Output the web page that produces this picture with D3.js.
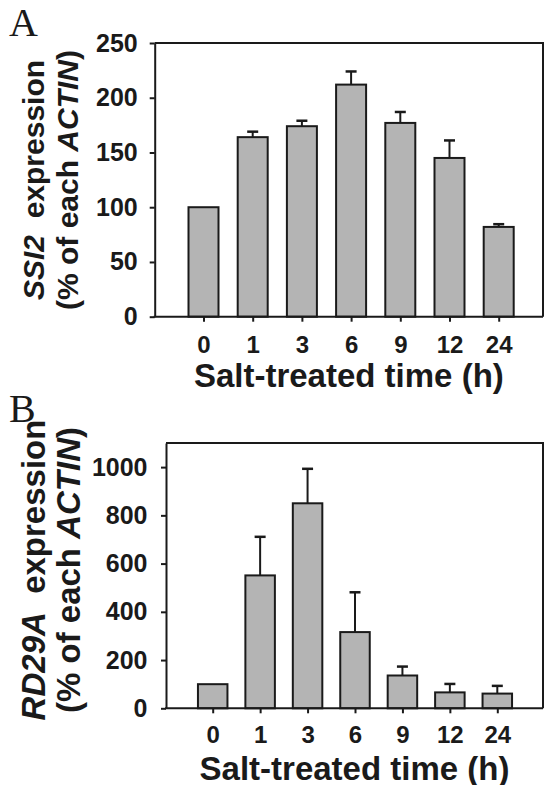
<!DOCTYPE html>
<html>
<head>
<meta charset="utf-8">
<script src="https://cdn.jsdelivr.net/npm/d3@7/dist/d3.min.js"></script>
<style>
  body { margin: 0; background: white; }
  text { font-family: "Liberation Sans", Arial, sans-serif; font-weight: bold; fill: #1a1a1a; }
</style>
</head>
<body>
<div id="chart"></div>
<script>
// Data
const times = ["0", "1", "3", "6", "9", "12", "24"];
const ssi2Mean = [100, 164, 174, 212, 177, 145, 82];
const ssi2Err = [0, 5, 5, 12, 10, 16, 2.5];
const rd29aMean = [100, 551, 850, 316, 136, 66, 61];
const rd29aErr = [0, 160, 143, 165, 37, 35, 32];
const ticksA = [0, 50, 100, 150, 200, 250];
const ticksB = [0, 200, 400, 600, 800, 1000];

const width = 544;
const height = 785;
const barFill = "#b4b4b4";
const ink = "#1a1a1a";

const svg = d3.select("#chart").append("svg")
  .attr("width", width)
  .attr("height", height);

function drawPanel(p) {
  const g = svg.append("g");

  const y = d3.scaleLinear().domain(p.domain).range([p.bottom, p.top]);
  const x = d3.scalePoint().domain(times).range(p.xRange);

  // frame (top + right)
  g.append("path")
    .attr("d", `M${p.left},${p.top}H${p.right}V${p.bottom}`)
    .attr("fill", "none").attr("stroke", ink).attr("stroke-width", 2);

  // bars
  const data = times.map((t, i) => ({ t, v: p.mean[i], e: p.err[i] }));
  g.selectAll(".bar").data(data).enter().append("rect")
    .attr("class", "bar")
    .attr("x", d => x(d.t) - p.barW / 2)
    .attr("width", p.barW)
    .attr("y", d => y(d.v))
    .attr("height", d => y(0) - y(d.v))
    .attr("fill", barFill)
    .attr("stroke", ink)
    .attr("stroke-width", 2);

  // error bars (upper only)
  const eb = g.selectAll(".err").data(data.filter(d => d.e > 0)).enter().append("g");
  eb.append("line")
    .attr("x1", d => x(d.t)).attr("x2", d => x(d.t))
    .attr("y1", d => y(d.v)).attr("y2", d => y(d.v + d.e))
    .attr("stroke", ink).attr("stroke-width", 2);
  eb.append("line")
    .attr("x1", d => x(d.t) - 5.5).attr("x2", d => x(d.t) + 5.5)
    .attr("y1", d => y(d.v + d.e)).attr("y2", d => y(d.v + d.e))
    .attr("stroke", ink).attr("stroke-width", 2.5);

  // y axis
  const ya = g.append("g")
    .attr("transform", `translate(${p.left},0)`)
    .call(d3.axisLeft(y).tickValues(p.ticks).tickFormat(d3.format("d"))
      .tickSize(5).tickPadding(p.yPad).tickSizeOuter(0));
  ya.select(".domain").attr("stroke", ink).attr("stroke-width", 2);
  ya.selectAll(".tick line").attr("stroke", ink).attr("stroke-width", 2);
  ya.selectAll(".tick text").style("font-size", "25px").attr("fill", ink);

  // x axis
  const xa = g.append("g")
    .attr("transform", `translate(0,${p.bottom})`)
    .call(d3.axisBottom(x).tickSize(5).tickSizeOuter(0));
  xa.select(".domain").attr("d", `M${p.left - 1},0H${p.right}`).attr("stroke", ink).attr("stroke-width", 2);
  xa.selectAll(".tick line").attr("stroke", ink).attr("stroke-width", 2);
  xa.selectAll(".tick text").style("font-size", "24px").attr("fill", ink)
    .attr("y", p.xLabY).attr("dy", 0);

  // x title
  g.append("text")
    .attr("x", (p.left + p.right) / 2)
    .attr("y", p.titleY)
    .attr("text-anchor", "middle")
    .style("font-size", "33px")
    .text("Salt-treated time (h)");

  // y title, two lines, rotated
  const cy = p.labCy;
  const l1 = g.append("text")
    .attr("transform", `translate(${p.lab1X},${cy}) rotate(-90)`)
    .attr("text-anchor", "middle")
    .style("font-size", p.labSize + "px");
  l1.append("tspan").style("font-style", "italic").text(p.gene);
  l1.append("tspan").text("\u00a0 expression");

  const l2 = g.append("text")
    .attr("transform", `translate(${p.lab2X},${cy}) rotate(-90)`)
    .attr("text-anchor", "middle")
    .style("font-size", p.labSize + "px");
  l2.append("tspan").text("(% of each ");
  l2.append("tspan").style("font-style", "italic").text("ACTIN");
  l2.append("tspan").text(")");

  // panel letter
  svg.append("text")
    .attr("x", 9).attr("y", p.letterY)
    .style("font-family", "'Liberation Serif', 'Times New Roman', serif")
    .style("font-weight", "normal")
    .style("font-size", "40px")
    .text(p.letter);
}

drawPanel({
  letter: "A", letterY: 36,
  gene: "SSI2",
  mean: ssi2Mean, err: ssi2Err, ticks: ticksA,
  domain: [0, 250],
  left: 154.7, right: 543, top: 43, bottom: 316.7,
  xRange: [203.5, 498.7], barW: 30,
  yPad: 12, xLabY: 36.5, titleY: 387,
  lab1X: 43.5, lab2X: 78, labCy: 180, labSize: 30
});

drawPanel({
  letter: "B", letterY: 422,
  gene: "RD29A",
  mean: rd29aMean, err: rd29aErr, ticks: ticksB,
  domain: [0, 1100],
  left: 166, right: 543, top: 443, bottom: 708.3,
  xRange: [212.7, 497.3], barW: 29.5,
  yPad: 13.5, xLabY: 34.5, titleY: 779.5,
  lab1X: 45, lab2X: 80, labCy: 570, labSize: 33
});
</script>
</body>
</html>
